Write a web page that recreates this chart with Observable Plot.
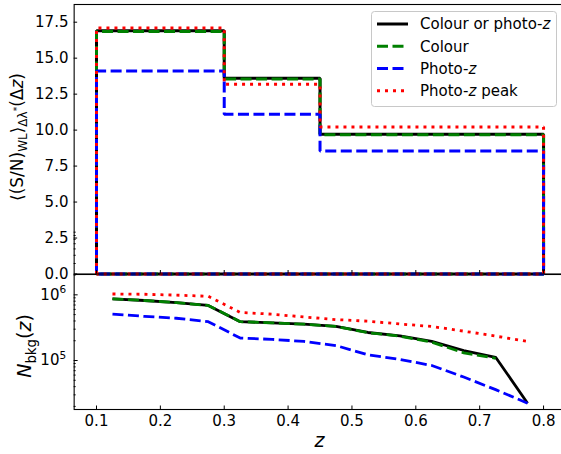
<!DOCTYPE html>
<html><head><meta charset="utf-8">
<script src="https://cdn.jsdelivr.net/npm/d3@7"></script>
<script src="https://cdn.jsdelivr.net/npm/@observablehq/plot@0.6"></script>
<style>
html,body{margin:0;padding:0;background:#fff;overflow:hidden;}
#wrap{position:relative;width:561px;height:454px;overflow:hidden;font-family:"DejaVu Sans";}
#wrap svg{position:absolute;left:0;top:0;}
</style></head><body><div id="wrap"></div>
<script>
// ---- data ----
const seriesNames = ["Colour or photo-z", "Colour", "Photo-z", "Photo-z peak"];
const binEdges = [0.1, 0.3, 0.45, 0.8];
const snrColourOrPhotoz = [16.9, 13.6, 9.72];
const snrColour = [16.85, 13.55, 9.68];
const snrPhotoz = [14.1, 11.1, 8.55];
const snrPhotozPeak = [17.1, 13.18, 10.22];

const zCentres = [0.125, 0.175, 0.225, 0.275, 0.325, 0.375, 0.425, 0.475, 0.525, 0.575, 0.625, 0.675, 0.725, 0.775];
const nbkgColourOrPhotoz = [8.7e5, 8.2e5, 7.6e5, 6.9e5, 3.9e5, 3.75e5, 3.57e5, 3.3e5, 2.67e5, 2.38e5, 1.95e5, 1.42e5, 1.12e5, 2.24e4];
const nbkgColour = [8.7e5, 8.2e5, 7.6e5, 6.9e5, 3.9e5, 3.75e5, 3.57e5, 3.3e5, 2.65e5, 2.35e5, 1.9e5, 1.31e5, 1.08e5, null];
const nbkgPhotoz = [5.1e5, 4.7e5, 4.4e5, 3.9e5, 2.2e5, 2.1e5, 1.95e5, 1.69e5, 1.22e5, 1.04e5, 8.4e4, 5.6e4, 3.6e4, 2.24e4];
const nbkgPhotozPeak = [1.03e6, 1.02e6, 9.9e5, 9.5e5, 5.4e5, 5.07e5, 4.6e5, 4.2e5, 3.97e5, 3.6e5, 3.3e5, 2.8e5, 2.35e5, 1.95e5];

const xTicks = [0.1, 0.2, 0.3, 0.4, 0.5, 0.6, 0.7, 0.8];
const yTicksTop = [0, 2.5, 5, 7.5, 10, 12.5, 15, 17.5];
const yTicksLogMajor = [1e5, 1e6];

// ---- styles ----
const colours = ["#000000", "#008000", "#0000ff", "#ff0000"];
const dashes = [null, "11,4.5", "11,4.5", "3,5"];

const snrAll = [snrColourOrPhotoz, snrColour, snrPhotoz, snrPhotozPeak];
const nbkgAll = [nbkgColourOrPhotoz, nbkgColour, nbkgPhotoz, nbkgPhotozPeak];

function stepOutline(vals) {
  const pts = [{x: binEdges[0], y: 0}];
  vals.forEach((v, i) => { pts.push({x: binEdges[i], y: v}); pts.push({x: binEdges[i + 1], y: v}); });
  pts.push({x: binEdges[binEdges.length - 1], y: 0});
  pts.push({x: binEdges[0], y: 0});
  return pts;
}

const W = 566, ML = 73.65, MR = W - 565.4;
const xDomain = [0.065, 0.835];
const baseStyle = {background: "transparent", maxWidth: "none", fontFamily: "DejaVu Sans", fontSize: "15px", color: "#000", overflow: "visible"};

const minorTicks = [];
[1e4, 1e5, 1e6].forEach(d => { for (let m = 2; m <= 9; m++) minorTicks.push(m * d); });

const topSvg = Plot.plot({
  width: W, height: 276, marginLeft: ML, marginRight: MR, marginTop: 4, marginBottom: 2.5,
  style: baseStyle,
  x: {domain: xDomain},
  y: {domain: [0, 18.73]},
  marks: [
    ...snrAll.map((vals, i) => Plot.line(stepOutline(vals), {
      x: "x", y: "y", stroke: colours[i], strokeWidth: 3,
      strokeDasharray: dashes[i], strokeLinecap: "butt", strokeLinejoin: "miter"
    })),
    Plot.frame({stroke: "#000", strokeWidth: 1.1}),
    Plot.axisY({ticks: yTicksTop, tickSize: -3.5, tickPadding: 9.2, tickFormat: d => d.toFixed(1), label: null, strokeWidth: 1}),
    Plot.axisX({ticks: xTicks, tickSize: -3.5, tickFormat: () => "", label: null, strokeWidth: 1})
  ]
});

const bottomSvg = Plot.plot({
  width: W, height: 454, marginLeft: ML, marginRight: MR, marginTop: 274, marginBottom: 45,
  style: baseStyle,
  x: {domain: xDomain},
  y: {type: "log", domain: [1.795e4, 2.04e6]},
  marks: [
    ...nbkgAll.map((vals, i) => Plot.line(zCentres.map((z, j) => ({x: z, y: vals[j]})), {
      x: "x", y: "y", stroke: colours[i], strokeWidth: 2.8,
      strokeDasharray: dashes[i], strokeLinecap: "butt", strokeLinejoin: "round"
    })),
    Plot.frame({stroke: "#000", strokeWidth: 1.1}),
    Plot.axisY({ticks: yTicksLogMajor, tickSize: -4, tickPadding: 12, tickFormat: d => "10^" + Math.round(Math.log10(d)), label: null}),
    Plot.axisY({ticks: minorTicks, tickSize: -2, tickFormat: () => "", label: null}),
    Plot.axisX({ticks: xTicks, tickSize: -3.5, tickPadding: 9.5, tickFormat: d => d.toFixed(1), label: null})
  ]
});

const wrap = document.getElementById("wrap");
wrap.appendChild(bottomSvg);
wrap.appendChild(topSvg);

// superscript exponents on log tick labels
d3.select(bottomSvg).selectAll("text").each(function() {
  const s = this.textContent;
  const m = /^10\^(\d+)$/.exec(s);
  if (m) {
    const t = d3.select(this);
    t.text("");
    t.append("tspan").text("10");
    t.append("tspan").text(m[1]).attr("font-size", 10.5).attr("dy", -6.5);
  }
});

function richText(sel, parts) {
  let cur = 0;
  parts.forEach(p => {
    const s = p.shift || 0;
    const ts = sel.append("tspan").text(p.t).attr("dy", s - cur);
    if (p.size) ts.attr("font-size", p.size);
    if (p.italic) ts.attr("font-style", "italic");
    cur = s;
  });
}

// top y label
const tl = d3.select(topSvg).append("text")
  .attr("transform", "translate(23,137) rotate(-90)")
  .attr("text-anchor", "middle").attr("font-family", "DejaVu Sans").attr("font-size", 17).attr("fill", "#000");
richText(tl, [
  {t: "\u27E8(S/N)"}, {t: "WL", size: 12, shift: 4}, {t: "\u27E9", shift: 0},
  {t: "\u0394\u03BB", size: 12, shift: 4}, {t: "*", size: 9, shift: -3},
  {t: "(\u0394", shift: 0}, {t: "z", italic: true, shift: 0}, {t: ")", shift: 0}
]);

// bottom y label
const bl = d3.select(bottomSvg).append("text")
  .attr("transform", "translate(31,346) rotate(-90)")
  .attr("text-anchor", "middle").attr("font-family", "DejaVu Sans").attr("font-size", 19).attr("fill", "#000");
richText(bl, [
  {t: "N", italic: true}, {t: "bkg", size: 13.3, shift: 4.5},
  {t: "(", shift: 0}, {t: "z", italic: true, shift: 0}, {t: ")", shift: 0}
]);

// x label
d3.select(bottomSvg).append("text")
  .attr("x", (ML + W - MR) / 2).attr("y", 447)
  .attr("text-anchor", "middle").attr("font-family", "DejaVu Sans").attr("font-size", 19)
  .attr("font-style", "italic").attr("fill", "#000").text("z");

// legend
const lg = d3.select(topSvg).append("g").attr("font-family", "DejaVu Sans").attr("font-size", 15)
  .attr("text-anchor", "start");
lg.append("rect").attr("x", 371.5).attr("y", 11.5).attr("width", 185).attr("height", 95).attr("rx", 3)
  .attr("fill", "#ffffff").attr("fill-opacity", 0.8).attr("stroke", "#c8c8c8").attr("stroke-width", 1);
seriesNames.forEach((name, i) => {
  const y = 24 + i * 22.27;
  lg.append("line").attr("x1", 377).attr("x2", 408).attr("y1", y).attr("y2", y)
    .attr("stroke", colours[i]).attr("stroke-width", 3).attr("stroke-dasharray", dashes[i])
    .attr("stroke-linecap", "butt");
  const t = lg.append("text").attr("x", 420).attr("y", y).attr("dy", "0.35em").attr("fill", "#000")
    .attr("text-anchor", "start");
  const parts = name.split("-z");
  if (parts.length > 1) {
    t.append("tspan").text(parts[0] + "-");
    t.append("tspan").attr("font-style", "italic").text("z");
    if (parts[1]) t.append("tspan").text(parts[1]);
  } else {
    t.text(name);
  }
});
</script>
</body></html>
